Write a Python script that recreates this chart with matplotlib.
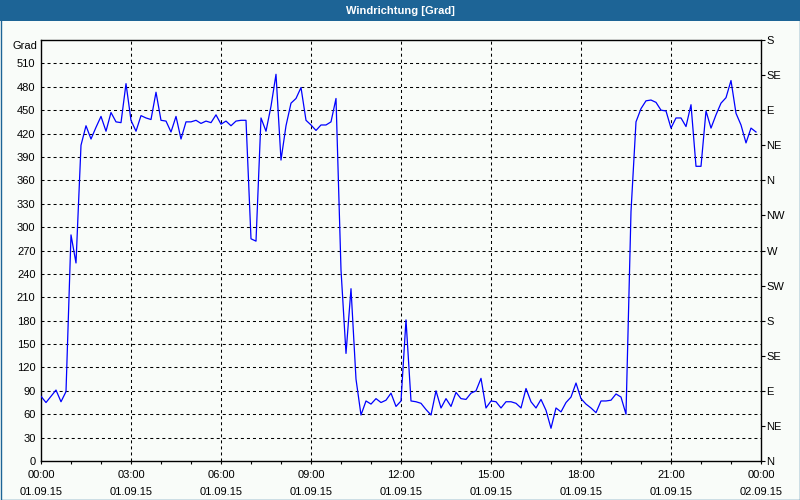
import numpy as np
import matplotlib
matplotlib.use("Agg")
import matplotlib.pyplot as plt
from matplotlib.patches import Rectangle
from matplotlib.ticker import MultipleLocator

plt.rcParams['font.family'] = ['Liberation Sans', 'DejaVu Sans']
plt.rcParams['font.size'] = 8

# wind direction in degrees, every 10 minutes from 00:00 to 23:50
direction = [
    83, 75, 83, 91, 76, 89, 290, 254, 405, 430,
    413, 428, 442, 423, 447, 435, 434, 484, 437, 423,
    443, 440, 438, 473, 437, 436, 422, 442, 413, 435,
    435, 437, 433, 436, 434, 444, 432, 436, 430, 436,
    437, 437, 285, 282, 440, 423, 455, 496, 386, 430,
    459, 465, 479, 437, 431, 424, 431, 431, 435, 465,
    245, 138, 221, 105, 59, 77, 73, 80, 75, 78,
    87, 70, 77, 181, 77, 76, 74, 66, 59, 90,
    68, 80, 70, 88, 80, 79, 87, 90, 106, 68,
    77, 76, 68, 76, 76, 74, 68, 93, 76, 68,
    79, 65, 42, 68, 63, 75, 82, 100, 80, 73,
    68, 62, 77, 77, 78, 86, 82, 60, 320, 435,
    452, 462, 463, 460, 450, 449, 427, 440, 440, 429,
    457, 378, 378, 449, 427, 444, 459, 466, 488, 446,
    431, 408, 427, 422,
]
hours = np.arange(len(direction)) / 6.0

x_ticks = [0, 3, 6, 9, 12, 15, 18, 21, 24]
x_labels = ["00:00\n01.09.15", "03:00\n01.09.15", "06:00\n01.09.15",
            "09:00\n01.09.15", "12:00\n01.09.15", "15:00\n01.09.15",
            "18:00\n01.09.15", "21:00\n01.09.15", "00:00\n02.09.15"]
left_ticks = list(range(0, 540, 30))
compass_ticks = list(range(0, 541, 45))
compass_labels = ["N", "NE", "E", "SE", "S", "SW", "W", "NW",
                  "N", "NE", "E", "SE", "S"]

bg = '#f9fcf9'
frame_blue = '#1d6496'

fig = plt.figure(figsize=(8, 5), dpi=100, facecolor=bg)
ax = fig.add_axes([41/800, 39/500, 720/800, 421/500])
ax.set_facecolor(bg)

ax.plot(hours, direction, color='#0000ff', lw=0.9, zorder=3)

ax.set_xlim(0, 24)
ax.set_ylim(0, 540)
ax.set_xticks(x_ticks)
ax.set_xticklabels(x_labels, linespacing=1.9)
ax.xaxis.set_minor_locator(MultipleLocator(1))
ax.set_yticks(left_ticks)
ax.set_yticklabels([str(v) for v in left_ticks])

ax.tick_params(axis='x', which='both', direction='out', length=2.5, width=0.8,
               color='black', pad=4)
ax.tick_params(axis='y', length=0, pad=4)

for sp in ax.spines.values():
    sp.set_color('black')
    sp.set_linewidth(1.0)

dash = dict(color='black', lw=0.75, linestyle=(0, (2.9, 2.9)), zorder=1)
for v in left_ticks[1:]:
    ax.axhline(v, **dash)
for h in x_ticks[1:-1]:
    ax.axvline(h, **dash)

ax2 = ax.twinx()
ax2.set_ylim(0, 540)
ax2.set_yticks(compass_ticks)
ax2.set_yticklabels(compass_labels)
ax2.tick_params(axis='y', direction='out', length=3, width=0.8, pad=1)
for sp in ax2.spines.values():
    sp.set_visible(False)

fig.text(37/800, 1 - 46/500, "Grad", ha='right', va='center')

# title bar and window border
fig.patches.append(Rectangle((0, 1 - 21/500), 1, 21/500, transform=fig.transFigure,
                             facecolor=frame_blue, edgecolor='none', zorder=0))
fig.patches.append(Rectangle((0.5/800, 0.5/500), 799/800, 499/500, transform=fig.transFigure,
                             facecolor='none', edgecolor=frame_blue, lw=1.0, zorder=5))
fig.text(0.5, 1 - 10.5/500, "Windrichtung [Grad]", color='white', weight='bold',
         ha='center', va='center', fontsize=8)

fig.savefig("out.png", dpi=100, facecolor=bg)
